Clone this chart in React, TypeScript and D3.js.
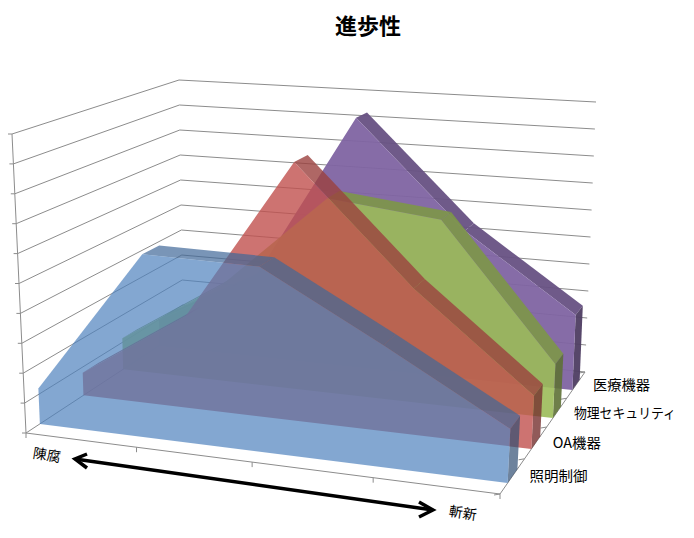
import { useEffect, useRef } from 'react';
import * as d3 from 'd3';

const title = '進歩性';
const categories = ['1', '2', '3', '4', '5'];
const seriesNames = ['照明制御', 'OA機器', '物理セキュリティ', '医療機器'];
const valueTicks = [0, 1, 2, 3, 4, 5, 6, 7, 8, 9, 10];

const lighting = [1.2, 6.1, 6.05, 3.9, 1.7];
const officeAuto = [0.8, 3.2, 8.85, 4.9, 1.75];
const physical = [1.15, 3.5, 6.95, 6.5, 1.85];
const medical = [1, 3, 9.3, 5.4, 2.7];
const seriesValues = [lighting, officeAuto, physical, medical];

const seriesColors = ['#4F81BD', '#C0504D', '#9BBB59', '#8064A2'];
const seriesAlpha = [0.7, 0.8, 0.9, 0.95];
const labelWidths = [58, 48, 102, 57];

type Pt = [number, number];

// unit square -> quad, corners in order (0,0) (1,0) (1,1) (0,1)
const squareToQuad = (q: Pt[]) => {
  const [[x0, y0], [x1, y1], [x2, y2], [x3, y3]] = q;
  const dx1 = x1 - x2, dx2 = x3 - x2, sx = x0 - x1 + x2 - x3;
  const dy1 = y1 - y2, dy2 = y3 - y2, sy = y0 - y1 + y2 - y3;
  const den = dx1 * dy2 - dx2 * dy1;
  const g = (sx * dy2 - dx2 * sy) / den;
  const h = (dx1 * sy - sx * dy1) / den;
  const a = x1 - x0 + g * x1, b = x3 - x0 + h * x3;
  const d = y1 - y0 + g * y1, e = y3 - y0 + h * y3;
  return (u: number, v: number): Pt => {
    const w = g * u + h * v + 1;
    return [(a * u + b * v + x0) / w, (d * u + e * v + y0) / w];
  };
};

const App = () => {
  const ref = useRef<SVGSVGElement>(null);

  useEffect(() => {
    const svg = d3.select(ref.current);
    svg.selectAll('*').remove();

    // the box of the chart: front-left, front-right, back-right, back-left
    const floor = squareToQuad([[26, 433], [500, 494], [585, 372], [183, 330]]);
    const ceiling = squareToQuad([[12, 134], [516, 171], [596, 102], [179, 80]]);

    const xScale = d3.scalePoint<string>().domain(categories).range([0, 1]);
    const zBand = d3.scaleBand<string>().domain(seriesNames).range([0, 1]).paddingInner(0.6).paddingOuter(0.3);
    const yScale = d3.scaleLinear().domain([0, 10]).range([0, 1]);

    const project = (u: number, w: number, value: number): Pt => {
      const b = floor(u, w);
      const t = ceiling(u, w);
      const k = yScale(value);
      return [b[0] + (t[0] - b[0]) * k, b[1] + (t[1] - b[1]) * k];
    };
    const line = d3.line();
    const closed = (pts: Pt[]) => line(pts) + 'Z';

    // walls
    const grid = svg.append('g').attr('fill', 'none').attr('stroke', '#8c8c8c').attr('stroke-width', 1);
    valueTicks.forEach((v) => {
      grid.append('path').attr('d', line([project(0, 0, v), project(0, 1, v), project(1, 1, v)]));
      const p = project(0, 0, v);
      grid.append('path').attr('d', line([p, [p[0] - 4, p[1]]]));
    });
    grid.append('path').attr('d', line([project(0, 0, 0), project(0, 0, 10)]));
    grid.append('path').attr('d', line([project(0, 0, 0), project(1, 0, 0), project(1, 1, 0)]));

    categories.forEach((c) => {
      const p = project(xScale(c)!, 0, 0);
      grid.append('path').attr('d', line([p, [p[0], p[1] + 5]]));
    });
    d3.range(0, 5).forEach((i) => {
      const p = project(1, i / 4, 0);
      grid.append('path').attr('d', line([p, [p[0] - 6, p[1] + 1]]));
    });

    // areas, back to front
    d3.range(3, -1, -1).forEach((s) => {
      const name = seriesNames[s];
      const values = seriesValues[s];
      const z0 = zBand(name)!;
      const z1 = z0 + zBand.bandwidth();
      const base = d3.color(seriesColors[s])!;
      const g = svg.append('g').attr('fill-opacity', seriesAlpha[s]);

      const frontTop = categories.map((c, i) => project(xScale(c)!, z0, values[i]));
      const backTop = categories.map((c, i) => project(xScale(c)!, z1, values[i]));
      const last = categories[categories.length - 1];

      // top strips that face the viewer
      d3.range(0, categories.length - 1).forEach((i) => {
        const a = frontTop[i], b = frontTop[i + 1], c = backTop[i + 1];
        const cross = (b[0] - a[0]) * (c[1] - b[1]) - (b[1] - a[1]) * (c[0] - b[0]);
        if (cross < 0) {
          g.append('path')
            .attr('d', closed([a, b, c, backTop[i]]))
            .attr('fill', base.darker(0.6).formatHex());
        }
      });

      // right end
      g.append('path')
        .attr('d', closed([
          project(1, z0, 0),
          project(1, z1, 0),
          project(1, z1, values[values.length - 1]),
          project(1, z0, values[values.length - 1]),
        ]))
        .attr('fill', base.darker(1.4).formatHex());

      // front face
      g.append('path')
        .attr('d', closed([
          project(xScale(categories[0])!, z0, 0),
          ...frontTop,
          project(xScale(last)!, z0, 0),
        ]))
        .attr('fill', base.formatHex());
    });

    // labels
    svg.append('text')
      .text(title)
      .attr('x', 368)
      .attr('y', 34)
      .attr('text-anchor', 'middle')
      .attr('font-family', '"Noto Sans CJK JP"')
      .attr('font-weight', 700)
      .attr('font-size', 22);

    seriesNames.forEach((name, i) => {
      const p = project(1, zBand(name)! + zBand.bandwidth() / 2, 0);
      svg.append('text')
        .text(name)
        .attr('x', p[0] + 17)
        .attr('y', p[1] + 5.5)
        .attr('textLength', labelWidths[i])
        .attr('lengthAdjust', 'spacingAndGlyphs')
        .attr('font-family', '"Noto Sans CJK JP"')
        .attr('font-size', 14);
    });

    const annotate = (text: string, x: number, y: number) => {
      svg.append('text')
        .text(text)
        .attr('transform', `translate(${x},${y}) rotate(9)`)
        .attr('text-anchor', 'middle')
        .attr('font-family', '"Noto Sans CJK JP"')
        .attr('font-size', 14);
    };
    annotate('陳腐', 46, 460);
    annotate('斬新', 462, 518);

    // arrow under the chart
    const arrow = svg.append('g')
      .attr('fill', 'none')
      .attr('stroke', '#000')
      .attr('stroke-width', 3.5);
    arrow.append('path').attr('d', line([[75, 459], [433, 510]]));
    arrow.append('path').attr('d', line([[87, 454], [75, 459], [87, 468]]));
    arrow.append('path').attr('d', line([[419, 502], [433, 510], [419, 517]]));
  }, []);

  return (
    <svg
      ref={ref}
      width={694}
      height={538}
      style={{ position: 'absolute', left: 0, top: 0, background: '#fff' }}
    />
  );
};

export default App;
